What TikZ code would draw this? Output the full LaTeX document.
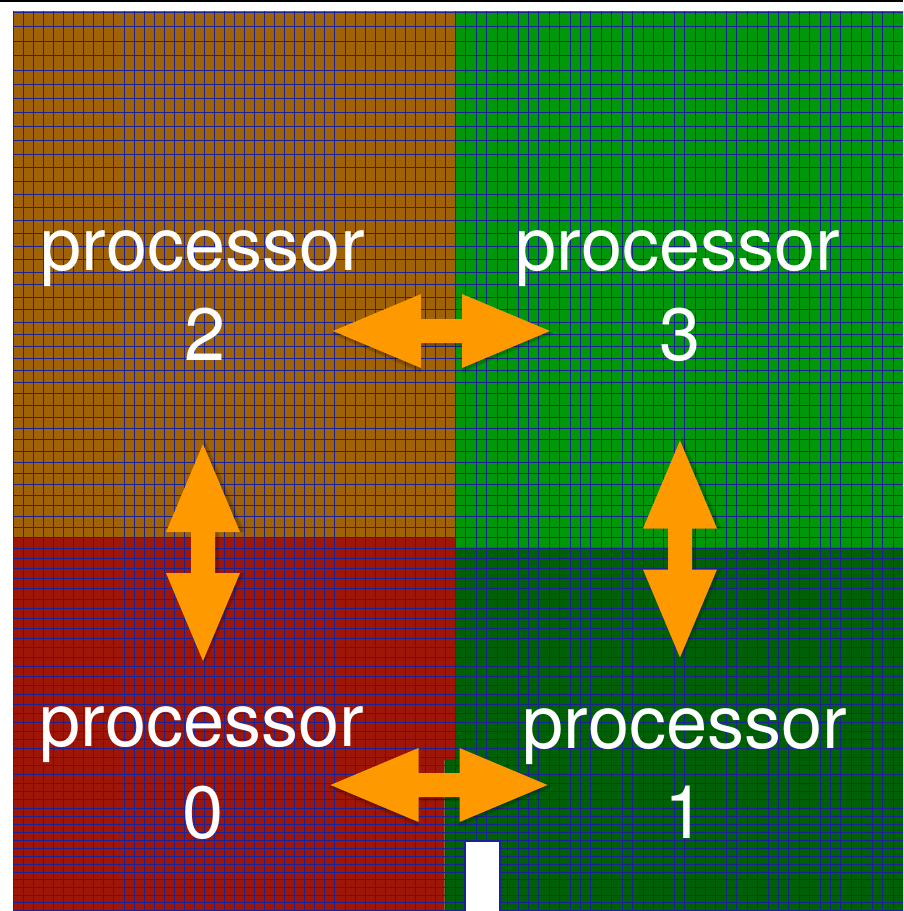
\documentclass[tikz,border=0pt]{standalone}
\usepackage{fontspec}
\setmainfont{TeX Gyre Heros}
\usetikzlibrary{shadows}
\definecolor{cbrown}{RGB}{160,98,6}
\definecolor{cgreen}{RGB}{0,152,10}
\definecolor{cdkgreen}{RGB}{0,96,8}
\definecolor{cred}{RGB}{158,22,8}
\definecolor{cblue}{RGB}{26,34,150}
\definecolor{corange}{RGB}{255,153,0}
\tikzset{
  gridl/.style={draw=cblue, line width=1.5pt},
  lbl/.style={text=white, font=\fontsize{74}{80}\selectfont, anchor=base, inner sep=0pt},
  arrowfill/.style={fill=corange},
  arrowshadow/.style={fill=black, opacity=0.12},
  dblarr/.pic={
    \fill[arrowshadow] (-111,2.5) -- (-20.5,-36) -- (-20.5,-10) -- (20.5,-10) -- (20.5,-36) -- (112,2.5) -- (20.5,42) -- (20.5,16) -- (-20.5,16) -- (-20.5,42) -- cycle;
    \fill[arrowshadow] (-109.5,1.5) -- (-20.5,-37) -- (-20.5,-11) -- (20.5,-11) -- (20.5,-37) -- (110.5,1.5) -- (20.5,40) -- (20.5,14.5) -- (-20.5,14.5) -- (-20.5,40) -- cycle;
    \fill[arrowfill] (-108.5,0) -- (-20.5,-37) -- (-20.5,-12) -- (20.5,-12) -- (20.5,-37) -- (108.5,0) -- (20.5,37) -- (20.5,12) -- (-20.5,12) -- (-20.5,37) -- cycle;
  }
}
\begin{document}
\begin{tikzpicture}[x=1pt,y=-1pt]
\useasboundingbox (0,0) rectangle (903,911);
\fill[white] (0,0) rectangle (903,911);
\fill[black] (0,0) rectangle (903,1.8);
% regions
\fill[cbrown] (13,11) rectangle (455,537.5);
\fill[cgreen] (455,11) rectangle (903,547.6);
\fill[cred] (13,537.5) -- (455,537.5) -- (455,760) -- (444.5,760) -- (444.5,911) -- (13,911) -- cycle;
\fill[cdkgreen] (455,547.6) -- (903,547.6) -- (903,911) -- (444.5,911) -- (444.5,760) -- (455,760) -- cycle;
% mesh
\begin{scope}
\clip (12.4,10.4) rectangle (903,911);
\foreach \i in {0,...,44} {\draw[gridl] ({round(13+\i*10.04545)+0.5},11) -- ({round(13+\i*10.04545)+0.5},911);}
\foreach \i in {1,...,43} {\draw[gridl] ({round(455+\i*10.4186)+0.5},11) -- ({round(455+\i*10.4186)+0.5},911);}
\foreach \k in {0,...,84} {
  \pgfmathsetmacro\yy{round(11.7+1800*(1-exp(-0.00822*\k)))+0.5}
  \draw[gridl] (13,\yy) -- (903,\yy);
}
\end{scope}
% hole
\fill[white] (465,841) rectangle (500,912);
\draw[gridl] (465,912) -- (465,841) -- (500,841) -- (500,912);
% arrows
\coordinate (a23) at (441.5,331);
\coordinate (a01) at (439,785);
\coordinate (a02) at (203,552.5);
\coordinate (a13) at (680,549);
\pic at (a23) {dblarr};
\pic at (a01) {dblarr};
\pic[rotate=90] at (a02) {dblarr};
\pic[rotate=90] at (a13) {dblarr};
% labels
\node[lbl] (p2) at (203,270) {processor};
\node[lbl] (n2) at (205,360) {2};
\node[lbl] (p3) at (678,270) {processor};
\node[lbl] (n3) at (680,360) {3};
\node[lbl] (p0) at (202,746) {processor};
\node[lbl] (n0) at (203,838) {0};
\node[lbl] (p1) at (685,748) {processor};
\node[lbl] (n1) at (685,838) {1};
\end{tikzpicture}
\end{document}
